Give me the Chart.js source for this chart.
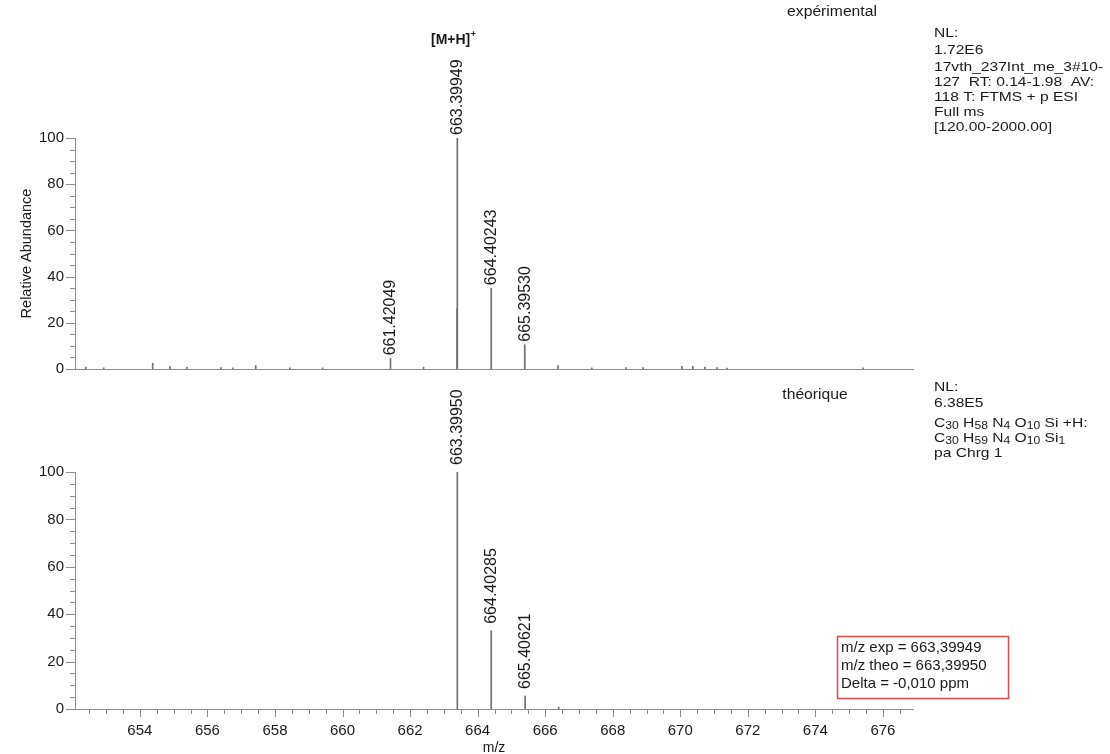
<!DOCTYPE html>
<html><head><meta charset="utf-8">
<script src="https://cdn.jsdelivr.net/npm/chart.js@4/dist/chart.umd.min.js"></script>
<style>
html,body{margin:0;padding:0;background:#fff;}
body{width:1110px;height:754px;position:relative;overflow:hidden;}
#c1{position:absolute;left:0;top:0;}
#c2{position:absolute;left:0;top:380px;}
</style></head><body>
<canvas id="c1" width="1110" height="380"></canvas>
<canvas id="c2" width="1110" height="374"></canvas>
<script>
// ---------- data ----------
const mzMin = 652.08, mzMax = 676.89;
const xTickStep = 0.5, xLabelEvery = 2;
const yTickStep = 5, yLabelEvery = 20;

const expMz        = [652.40, 652.93, 654.38, 654.89, 655.39, 656.40, 656.75, 657.43, 658.44, 659.41, 661.42049, 662.40, 663.392, 663.39949, 664.40243, 665.39530, 666.38, 667.38, 668.39, 668.90, 670.05, 670.37, 670.73, 671.09, 671.38, 675.41];
const expAbundance = [0.8,    0.5,    2.5,    1.0,    0.8,    0.6,    0.5,    1.5,    0.5,    0.5,    4.6,       0.8,    26,      100,       35,        10.5,      1.5,    0.5,    0.6,    0.6,    1.2,    1.2,    0.8,    0.6,    0.4,    0.5];
const expLabels    = ['661.42049', '663.39949', '664.40243', '665.39530'];

const theoMz        = [663.39950, 664.40285, 665.40621, 666.40];
const theoAbundance = [100,       33,        5.5,       0.8];
const theoLabels    = ['663.39950', '664.40285', '665.40621'];

const expInfo  = ['NL:', '1.72E6', '17vth_237Int_me_3#10-', '127  RT: 0.14-1.98  AV:', '118 T: FTMS + p ESI', 'Full ms', '[120.00-2000.00]'];
const theoInfo = ['NL:', '6.38E5'];
const boxLines = ['m/z exp = 663,39949', 'm/z theo = 663,39950', 'Delta = -0,010 ppm'];

// ---------- helpers ----------
const FONT = '"Liberation Sans", Arial, Helvetica, sans-serif';
const AXIS = '#8c8c8c', TEXT = '#1a1a1a', PEAK = '#707070';
const isMult = (v, m) => Math.abs(v / m - Math.round(v / m)) < 1e-6;

function txt(ctx, s, x, y, o = {}) {
  ctx.save();
  ctx.font = (o.bold ? 'bold ' : '') + (o.size || 14) + 'px ' + FONT;
  ctx.fillStyle = o.color || TEXT;
  ctx.textAlign = o.align || 'left';
  ctx.textBaseline = 'middle';
  ctx.translate(x, y);
  if (o.rot) ctx.rotate(o.rot);
  ctx.scale(o.sx || 1, 1);
  ctx.fillText(s, 0, 0);
  const w = ctx.measureText(s).width * (o.sx || 1);
  ctx.restore();
  return w;
}
function segText(ctx, segs, x, y, size, sx) {
  let cx = x;
  segs.forEach(([s, sub]) => {
    const w = txt(ctx, s, cx, sub ? y + 3 : y, {size: sub ? size * 0.78 : size, sx});
    cx += w;
  });
}

const ticksPlugin = {
  id: 'ticksPlugin',
  afterDraw(chart, args, opts) {
    const ctx = chart.ctx, {x, y} = chart.scales;
    ctx.save();
    ctx.strokeStyle = AXIS; ctx.lineWidth = 1;
    y.ticks.forEach(t => {
      const py = Math.round(y.getPixelForValue(t.value)) + 0.5;
      const len = isMult(t.value, yLabelEvery) ? 9 : 5;
      ctx.beginPath(); ctx.moveTo(y.right - len, py); ctx.lineTo(y.right, py); ctx.stroke();
    });
    if (opts.xTicks) x.ticks.forEach(t => {
      const px = Math.round(x.getPixelForValue(t.value)) + 0.5;
      const len = isMult(t.value, xLabelEvery) ? 8 : 5;
      ctx.beginPath(); ctx.moveTo(px, x.top); ctx.lineTo(px, x.top + len); ctx.stroke();
    });
    ctx.restore();
  }
};

const peakLabelPlugin = {
  id: 'peakLabels',
  afterDraw(chart, args, opts) {
    const ctx = chart.ctx, {x, y} = chart.scales;
    opts.labels.forEach(lbl => {
      const mz = parseFloat(lbl);
      const i = opts.mz.findIndex(v => Math.abs(v - mz) < 1e-6);
      const px = x.getPixelForValue(mz);
      const py = y.getPixelForValue(opts.ab[i]);
      txt(ctx, lbl, px + 0.5, py - (opts.gap || 3), {size: 16, rot: -Math.PI / 2, align: 'left'});
    });
  }
};

const annotPlugin = {
  id: 'annot',
  afterDraw(chart, args, opts) {
    opts.draw(chart.ctx);
  }
};

function makeChart(id, mz, ab, labels, isBottom, padTop, axisH, annot, gap) {
  return new Chart(document.getElementById(id), {
    type: 'bar',
    data: {datasets: [{
      data: mz.map((v, i) => ({x: v, y: ab[i]})),
      backgroundColor: PEAK, borderWidth: 0, barThickness: 1
    }]},
    options: {
      responsive: false, animation: false, events: [],
      layout: {padding: {left: 0, right: 197, top: padTop, bottom: 0}},
      plugins: {
        legend: {display: false}, tooltip: {enabled: false},
        ticksPlugin: {xTicks: isBottom},
        peakLabels: {labels, mz, ab, gap},
        annot: {draw: annot}
      },
      scales: {
        x: {
          type: 'linear', min: mzMin, max: mzMax, offset: false,
          grid: {display: false, tickLength: 8},
          border: {display: true, color: AXIS, width: 1},
          ticks: {
            display: isBottom, stepSize: xTickStep, includeBounds: false, autoSkip: false,
            maxRotation: 0, minRotation: 0, padding: 5, color: TEXT,
            font: {size: 15, family: FONT},
            callback: v => isMult(v, xLabelEvery) ? String(Math.round(v)) : ''
          },
          title: {display: isBottom, text: 'm/z', color: TEXT, font: {size: 14, family: FONT, lineHeight: 0.8}, padding: {top: 0, bottom: 0}},
          afterFit: s => { s.height = axisH; }
        },
        y: {
          min: 0, max: 100,
          grid: {display: false, tickLength: 9},
          border: {display: true, color: AXIS, width: 1},
          ticks: {
            stepSize: yTickStep, autoSkip: false, padding: 2, color: TEXT,
            font: {size: 15, family: FONT},
            callback: v => isMult(v, yLabelEvery) ? String(v) : ''
          },
          title: {display: !isBottom, text: 'Relative Abundance', color: TEXT, font: {size: 14.5, family: FONT}, padding: {top: 18, bottom: 0}},
          afterFit: s => { s.width = 75; }
        }
      }
    },
    plugins: [ticksPlugin, peakLabelPlugin, annotPlugin]
  });
}

// top: experimental
makeChart('c1', expMz, expAbundance, expLabels, false, 138, 3, ctx => {
  const w = txt(ctx, '[M+H]', 431, 40, {size: 14, bold: true});
  txt(ctx, '+', 431 + w + 0.5, 35, {size: 9, bold: true});
  txt(ctx, 'expérimental', 832, 12, {size: 14, align: 'center', sx: 1.12});
  expInfo.forEach((s, i) => txt(ctx, s, 934, [33, 50, 67, 82, 97, 112, 127][i], {size: 13, sx: 1.2}));
}, 3);

// bottom: theoretical (canvas top = 380)
makeChart('c2', theoMz, theoAbundance, theoLabels, true, 92, 45, ctx => {
  txt(ctx, 'théorique', 815, 15, {size: 14, align: 'center', sx: 1.12});
  theoInfo.forEach((s, i) => txt(ctx, s, 934, [7, 23][i], {size: 13, sx: 1.2}));
  segText(ctx, [['C', 0], ['30', 1], [' H', 0], ['58', 1], [' N', 0], ['4', 1], [' O', 0], ['10', 1], [' Si +H:', 0]], 934, 43, 13, 1.2);
  segText(ctx, [['C', 0], ['30', 1], [' H', 0], ['59', 1], [' N', 0], ['4', 1], [' O', 0], ['10', 1], [' Si', 0], ['1', 1]], 934, 58, 13, 1.2);
  txt(ctx, 'pa Chrg 1', 934, 73, {size: 13, sx: 1.2});
  ctx.save();
  ctx.strokeStyle = '#e04a4a'; ctx.lineWidth = 1.5;
  ctx.strokeRect(837.5, 256.5, 171, 62);
  ctx.restore();
  boxLines.forEach((s, i) => txt(ctx, s, 841, 268 + i * 18, {size: 15}));
}, 7);
</script>
</body></html>
